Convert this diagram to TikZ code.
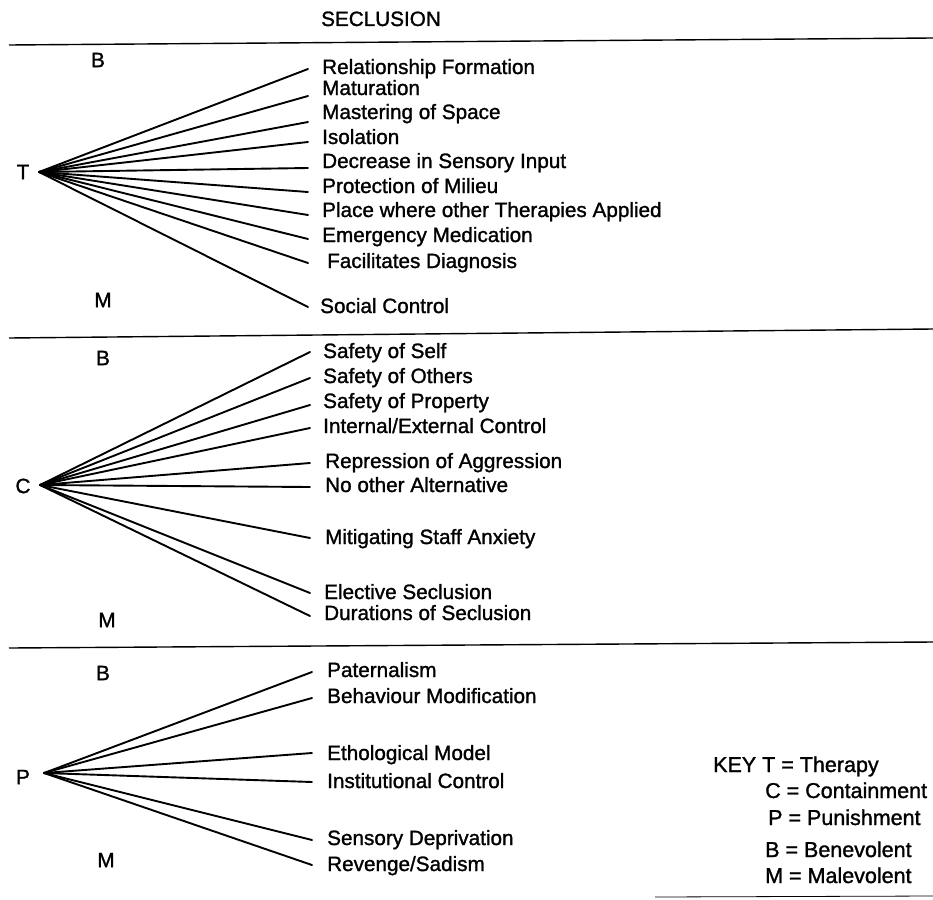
\documentclass[tikz,border=0pt]{standalone}
\usepackage{fontspec}
\setmainfont[FakeBold=1.3]{Liberation Sans}
\begin{document}
\begin{tikzpicture}[x=1pt,y=-1pt,
  lbl/.style={anchor=base west,inner sep=0pt,font=\fontsize{20.7}{24}\selectfont},
  keytxt/.style={anchor=base west,inner sep=0pt,font=\fontsize{21.5}{24}\selectfont},
  letter/.style={anchor=center,inner sep=0pt,font=\fontsize{20.7}{24}\selectfont},
  fan/.style={line width=1.9pt,line cap=round},
  rule/.style={line width=1.4pt}]
\useasboundingbox (0,0) rectangle (933,899);

% title and rules
\node[lbl] (title) at (321,26) {SECLUSION};
\coordinate (r1a) at (9,45);   \coordinate (r1b) at (933,38);
\coordinate (r2a) at (9,338);  \coordinate (r2b) at (933,329);
\coordinate (r3a) at (9,648);  \coordinate (r3b) at (933,642);
\coordinate (r4a) at (655,897); \coordinate (r4b) at (933,896);
\draw[rule] (r1a) -- (r1b);
\draw[rule] (r2a) -- (r2b);
\draw[rule] (r3a) -- (r3b);
\draw[line width=0.8pt] (r4a) -- (r4b);

% ---------- T section ----------
\node[letter] (tB) at (98,60) {B};
\node[letter] (tT) at (23,172) {T};
\node[letter] (tM) at (103,300) {M};
\coordinate (oT) at (39,172);
\node[lbl] (t1) at (322,74) {Relationship Formation};
\node[lbl] (t2) at (322,95) {Maturation};
\node[lbl] (t3) at (322,119) {Mastering of Space};
\node[lbl] (t4) at (322,144) {Isolation};
\node[lbl] (t5) at (322,168) {Decrease in Sensory Input};
\node[lbl] (t6) at (322,193) {Protection of Milieu};
\node[lbl] (t7) at (322,217) {Place where other Therapies Applied};
\node[lbl] (t8) at (322,242) {Emergency Medication};
\node[lbl] (t9) at (327,268) {Facilitates Diagnosis};
\node[lbl] (t10) at (320,313) {Social Control};
\foreach \i/\y in {1/69,2/96,3/122,4/142,5/168,6/192,7/215,8/239,9/263,10/307}
  \coordinate (te\i) at (308,\y);
\foreach \i in {1,...,10} \draw[fan] (oT) -- (te\i);

% ---------- C section ----------
\node[letter] (cB) at (103,358) {B};
\node[letter] (cC) at (23,486) {C};
\node[letter] (cM) at (107,620) {M};
\coordinate (oC) at (40,485);
\node[lbl] (c1) at (323,358) {Safety of Self};
\node[lbl] (c2) at (323,383) {Safety of Others};
\node[lbl] (c3) at (323,408) {Safety of Property};
\node[lbl] (c4) at (323,433) {Internal/External Control};
\node[lbl] (c5) at (325,468) {Repression of Aggression};
\node[lbl] (c6) at (325,492) {No other Alternative};
\node[lbl] (c7) at (325,544) {Mitigating Staff Anxiety};
\node[lbl] (c8) at (324,599) {Elective Seclusion};
\node[lbl] (c9) at (324,620) {Durations of Seclusion};
\foreach \i/\y in {1/352,2/378,3/405,4/428,5/463,6/487,7/538,8/593,9/616}
  \coordinate (ce\i) at (310,\y);
\foreach \i in {1,...,9} \draw[fan] (oC) -- (ce\i);

% ---------- P section ----------
\node[letter] (pB) at (103,673) {B};
\node[letter] (pP) at (23,777) {P};
\node[letter] (pM) at (106,860) {M};
\coordinate (oP) at (44,773);
\node[lbl] (p1) at (327,677) {Paternalism};
\node[lbl] (p2) at (327,703) {Behaviour Modification};
\node[lbl] (p3) at (327,760) {Ethological Model};
\node[lbl] (p4) at (327,788) {Institutional Control};
\node[lbl] (p5) at (327,845) {Sensory Deprivation};
\node[lbl] (p6) at (327,871) {Revenge/Sadism};
\foreach \i/\y in {1/672,2/698,3/753,4/782,5/840,6/865}
  \coordinate (pe\i) at (312,\y);
\foreach \i in {1,...,6} \draw[fan] (oP) -- (pe\i);

% ---------- key ----------
\node[keytxt] (key) at (713,772) {KEY};
\node[keytxt] (k1) at (762,772) {T = Therapy};
\node[keytxt] (k2) at (765,798) {C = Containment};
\node[keytxt] (k3) at (768,825) {P = Punishment};
\node[keytxt] (k4) at (765,857) {B = Benevolent};
\node[keytxt] (k5) at (765,883) {M = Malevolent};
\end{tikzpicture}
\end{document}
